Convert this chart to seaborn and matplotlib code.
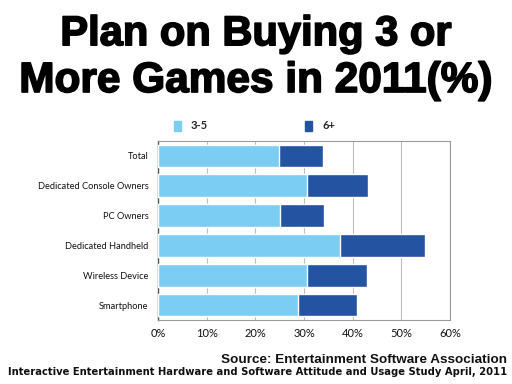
import matplotlib
matplotlib.use("Agg")
import matplotlib.pyplot as plt
import matplotlib.patheffects as pe
from matplotlib.patches import Patch
import seaborn as sns
import pandas as pd

# data (%)
categories = ["Total", "Dedicated Console Owners", "PC Owners",
              "Dedicated Handheld", "Wireless Device", "Smartphone"]
buy_3_5 = [24.9, 30.7, 25.0, 37.5, 30.7, 28.7]
buy_6_plus = [9.1, 12.5, 9.1, 17.3, 12.2, 12.1]
x_ticks = [0, 10, 20, 30, 40, 50, 60]

light = "#7ccdf4"
dark = "#2453a2"

sns.set_theme(style="white")
plt.rcParams['font.family'] = ['Lato', 'DejaVu Sans']

df = pd.DataFrame({"cat": categories, "low": buy_3_5, "high": buy_6_plus})
df["total"] = df["low"] + df["high"]

fig = plt.figure(figsize=(5.12, 3.84), dpi=100)
ax = fig.add_axes([0.3086, 0.1667, 0.5703, 0.4661])

sns.barplot(data=df, y="cat", x="total", color=dark, width=0.76,
            saturation=1, ax=ax, orient="h", zorder=3)
sns.barplot(data=df, y="cat", x="low", color=light, width=0.76,
            saturation=1, ax=ax, orient="h", zorder=4)

ax.set_xlim(0, 60)
ax.set_ylim(5.5, -0.5)
ax.set_xticks(x_ticks)
ax.set_xticklabels([f"{t}%" for t in x_ticks], fontsize=8)
ax.tick_params(axis="y", labelsize=6.7, length=0, pad=7, labelcolor="#111111")
ax.tick_params(axis="x", length=0, pad=6, labelcolor="#111111")
ax.set_xlabel("")
ax.set_ylabel("")
ax.grid(axis="x", color="#bdbdbd", linewidth=0.8, zorder=0)
ax.set_axisbelow(True)
for side in ["top", "right", "bottom"]:
    ax.spines[side].set_color("#9a9a9a")
    ax.spines[side].set_linewidth(0.8)
ax.spines["left"].set_color("#555555")
ax.spines["left"].set_linewidth(1.0)

handles = [Patch(color=light, label="3-5"), Patch(color=dark, label="6+")]
fig.legend(handles=handles, loc="center left", bbox_to_anchor=(0.320, 0.672),
           ncol=2, frameon=False, handlelength=0.65, handleheight=1.0,
           handletextpad=0.9, columnspacing=8.7,
           prop={'family': 'Lato', 'weight': 'bold', 'size': 8})

stroke = [pe.withStroke(linewidth=1.2, foreground="black")]
fig.text(0.5, 0.911, "Plan on Buying 3 or", ha="center", va="center", color="black",
         fontsize=30, fontweight="bold", family="Liberation Sans", path_effects=stroke)
fig.text(0.5, 0.789, "More Games in 2011(%)", ha="center", va="center", color="black",
         fontsize=30.5, fontweight="bold", family="Liberation Sans", path_effects=stroke)

fig.text(0.99, 0.062, "Source: Entertainment Software Association", ha="right",
         va="center", fontsize=9.7, family="Liberation Sans", fontweight="bold",
         color="#111111")
fig.text(0.99, 0.031, "Interactive Entertainment Hardware and Software Attitude and Usage Study April, 2011",
         ha="right", va="center", fontsize=7.2, family="DejaVu Sans", fontweight="bold",
         color="#111111")

fig.savefig("out.png", dpi=100)
